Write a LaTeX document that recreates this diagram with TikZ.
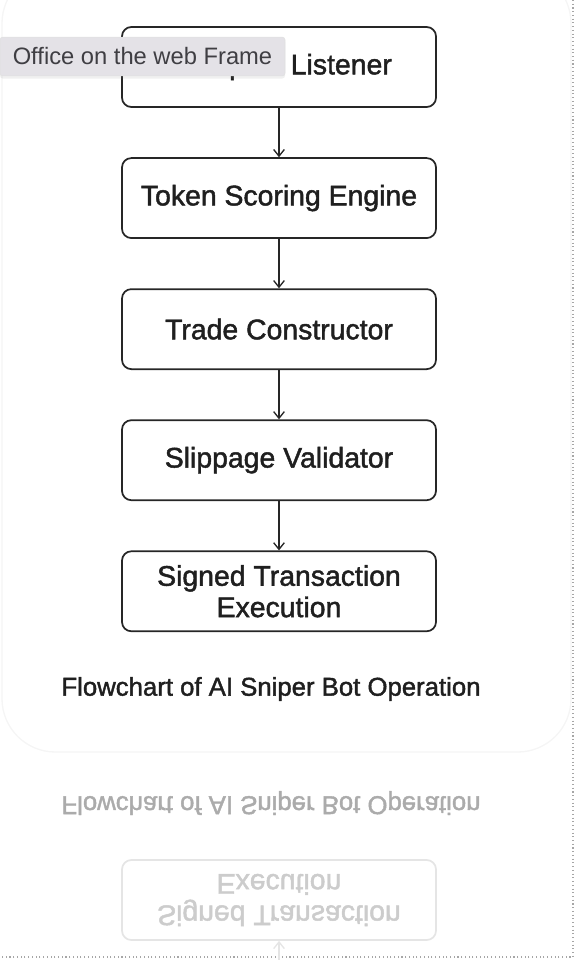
\documentclass[tikz,border=0pt]{standalone}
\usepackage{fontspec}
\setmainfont{Liberation Sans}
\newfontfamily\medfont{Liberation Sans}[FakeBold=1.6]
\usepackage{tikz}
\usetikzlibrary{positioning,arrows.meta,shadows}
\usepackage{xcolor}
\definecolor{tipgray}{HTML}{E4E2E7}
\definecolor{tiptext}{HTML}{3F3E43}

\begin{document}
\begin{tikzpicture}[
  x=0.75pt, y=-0.75pt,
  node distance=37pt,
  stage/.style={draw=black!85, line width=1.3pt, rounded corners=7pt,
    minimum width=235.5pt, minimum height=60pt, align=center,
    font=\medfont\fontsize{21.3}{23.5}\selectfont, text=black!88},
  arrow/.style={-{Straight Barb[length=5pt,width=8pt]}, line width=1pt, black!85},
  ghost/.style={yscale=-1, transform shape}
]
  \useasboundingbox (0,0) rectangle (578,960);
  % faint card outline and frame
  \draw[black!4, line width=1pt, rounded corners=40pt] (2,-30) rectangle (571,752);
  \draw[black!35, dotted, line width=0.8pt] (573,0) -- (573,957) -- (0,957);

  \node[stage] (mem) at (279,67) {Mempool Listener};
  \node[stage] (tok) [below=of mem] {Token Scoring Engine};
  \node[stage] (trd) [below=of tok] {Trade Constructor};
  \node[stage] (slp) [below=of trd] {Slippage Validator};
  \node[stage] (sig) [below=of slp] {Signed Transaction\\Execution};

  \draw[arrow] (mem) -- (tok);
  \draw[arrow] (tok) -- (trd);
  \draw[arrow] (trd) -- (slp);
  \draw[arrow] (slp) -- (sig);

  \node[font=\medfont\fontsize{19.3}{22}\selectfont, text=black!88] (cap) at (271,689)
    {Flowchart of AI Sniper Bot Operation};

  % reflection
  \node[ghost, font=\medfont\fontsize{19.3}{22}\selectfont, text=black!33] (capr) at (271,803)
    {Flowchart of AI Sniper Bot Operation};
  \node[stage, ghost, draw=black!10, text=black!20] (sigr) at (279,900)
    {Signed Transaction\\Execution};
  \coordinate (sigtip) at (279,962);
  \draw[arrow, black!10, {Straight Barb[length=5pt,width=8pt]}-] (sigr) -- (sigtip);

  % tooltip
  \node[fill=tipgray, draw=black!12, rounded corners=2pt, minimum width=213.75pt,
    minimum height=29pt, inner sep=0pt, text=tiptext,
    font=\fontsize{17.8}{20}\selectfont,
    drop shadow={opacity=0.12, shadow xshift=0pt, shadow yshift=-2pt}]
    (tip) at (142.5,56.5) {Office on the web Frame};
\end{tikzpicture}
\end{document}
